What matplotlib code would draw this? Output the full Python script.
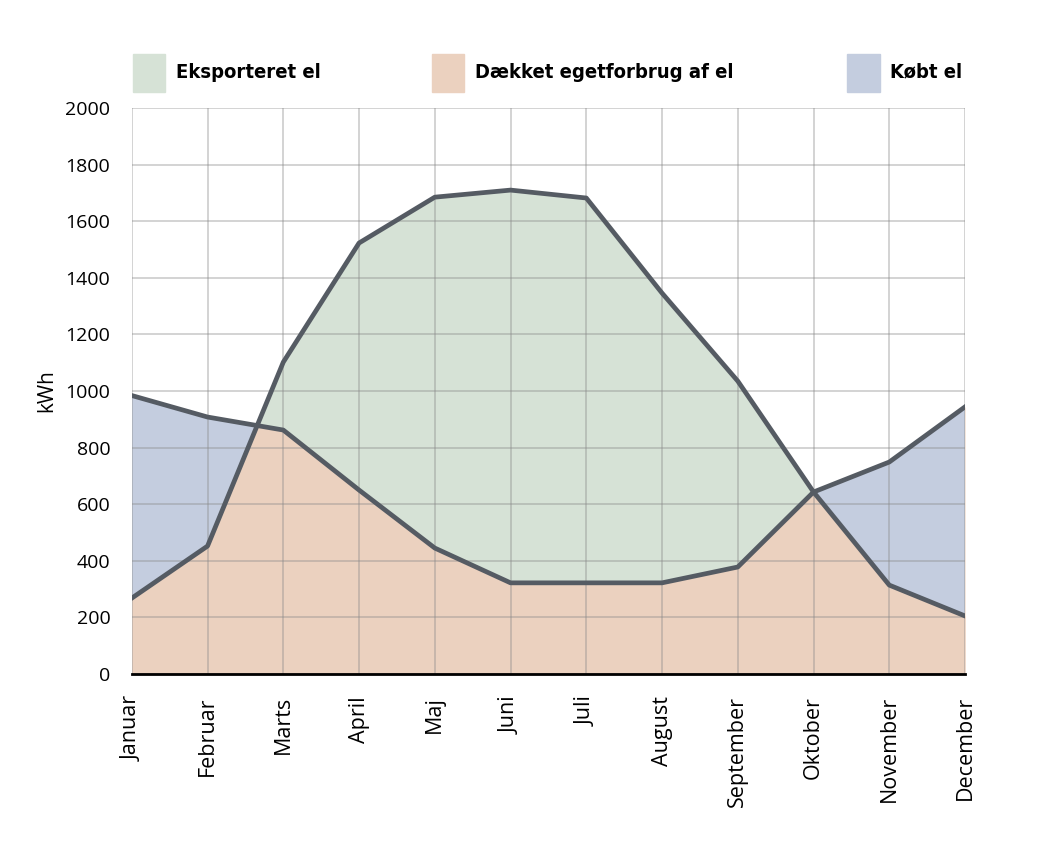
import matplotlib
matplotlib.use("Agg")
import matplotlib.pyplot as plt
import matplotlib.patches as mpatches
import numpy as np

months = ["Januar", "Februar", "Marts", "April", "Maj", "Juni", "Juli",
          "August", "September", "Oktober", "November", "December"]
# solproduktion og forbrug (kWh)
produktion = np.array([268, 452, 1102, 1523, 1685, 1710, 1682, 1346, 1035, 643, 314, 205])
forbrug = np.array([984, 908, 862, 650, 445, 322, 322, 322, 378, 643, 749, 944])
yticks = [0, 200, 400, 600, 800, 1000, 1200, 1400, 1600, 1800, 2000]

legend_labels = ["Eksporteret el", "Dækket egetforbrug af el", "Købt el"]
green = "#d6e2d6"
orange = "#ebd1bf"
blue = "#c4cddf"
linecol = "#555b63"

plt.rcParams["font.family"] = ["Open Sans", "DejaVu Sans"]

fig = plt.figure(figsize=(10.46, 8.5), dpi=100)
ax = fig.add_axes([0.126, 0.2071, 0.7966, 0.6658])

x = np.arange(len(months))

# orange under begge kurver, groen/blaa daekker mellem kurverne
ax.fill_between(x, 0, produktion, color=orange, lw=0, zorder=0.5)
ax.fill_between(x, 0, forbrug, color=orange, lw=0, zorder=0.5)
ax.fill_between(x, forbrug, produktion, where=produktion >= forbrug, interpolate=True,
                color=green, lw=0, zorder=1)
ax.fill_between(x, produktion, forbrug, where=forbrug >= produktion, interpolate=True,
                color=blue, lw=0, zorder=1)

ax.plot(x, produktion, color=linecol, lw=3.4, zorder=4, solid_joinstyle="round")
ax.plot(x, forbrug, color=linecol, lw=3.4, zorder=4, solid_joinstyle="round")

ax.set_xlim(0, len(months) - 1)
ax.set_ylim(0, 2000)
ax.set_yticks(yticks)
ax.set_xticks(x)
ax.set_xticklabels(months, rotation=90, fontsize=15.5)
ax.tick_params(axis="y", labelsize=14, length=0, pad=15.5)
ax.tick_params(axis="x", length=0, pad=16)

ax.grid(True, color="#888888", alpha=0.4, lw=1.3, zorder=2)
ax.set_axisbelow(False)
for s in ["top", "right", "left"]:
    ax.spines[s].set_visible(False)
ax.spines["bottom"].set_color("black")
ax.spines["bottom"].set_linewidth(2)
ax.spines["bottom"].set_zorder(5)

ax.set_ylabel("kWh", fontsize=15, labelpad=6)

# legend at the top
leg_x = [0.127, 0.413, 0.810]
for lx, lab, col in zip(leg_x, legend_labels, [green, orange, blue]):
    fig.patches.append(mpatches.Rectangle((lx, 0.892), 0.031, 0.044, color=col,
                                          transform=fig.transFigure, figure=fig))
    fig.text(lx + 0.041, 0.915, lab, fontsize=14.5, fontweight="bold",
             family=["Liberation Sans Narrow", "DejaVu Sans"], va="center", ha="left",
             fontstretch="condensed")

fig.savefig("out.png", dpi=100)
